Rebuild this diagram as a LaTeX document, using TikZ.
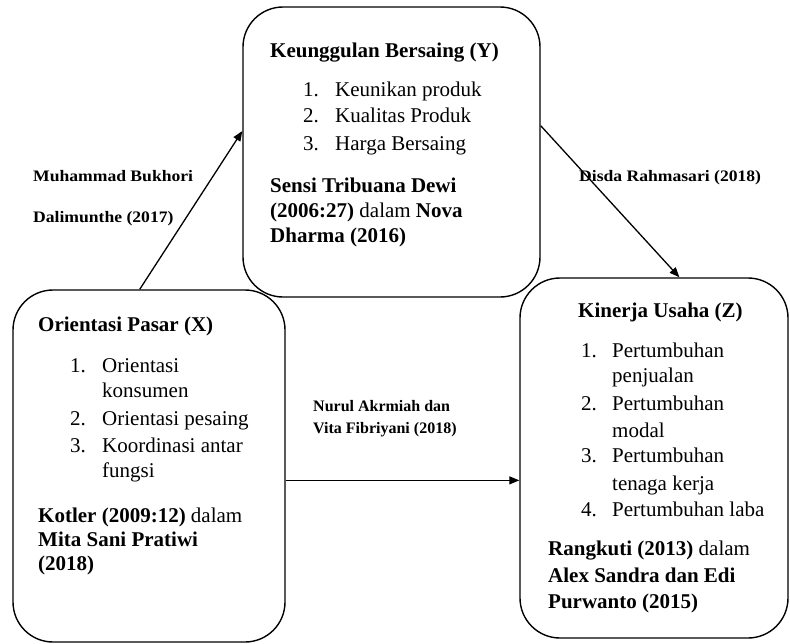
\documentclass[tikz,border=0pt]{standalone}
\usepackage{fontspec}
\setmainfont{Liberation Serif}
\usepackage{graphicx}
\usetikzlibrary{arrows.meta}

\tikzset{
  box/.style={draw, rounded corners=40pt, line width=1.4pt},
  txt/.style={anchor=base west, inner sep=0pt, font=\fontsize{21}{26}\selectfont},
  lbl/.style={anchor=base west, inner sep=0pt, font=\bfseries\fontsize{16}{20}\selectfont},
  arr/.style={-{Triangle[length=10pt,width=8pt]}, line width=1.3pt}
}
\newcommand{\wide}[1]{\scalebox{1.1}[1]{#1}}

\begin{document}
\begin{tikzpicture}[x=1pt,y=-1pt]
\useasboundingbox (0,0) rectangle (790,643);

\node[box, minimum width=297pt, minimum height=290pt] (Y) at (391.5,152) {};
\node[box, minimum width=272pt, minimum height=352pt] (X) at (149,466) {};
\node[box, minimum width=268pt, minimum height=360pt] (Z) at (654,458) {};

% Keunggulan Bersaing
\node[txt] (ytitle) at (270,57) {\textbf{Keunggulan Bersaing (Y)}};
\foreach \k/\yy/\t in {1/96/Keunikan produk, 2/122/Kualitas Produk, 3/150/Harga Bersaing}{
  \node[txt] (yn\k) at (303,\yy) {\k.};
  \node[txt] (yi\k) at (335,\yy) {\t};
}
\node[txt] (ysrc1) at (270,192) {\textbf{Sensi Tribuana Dewi}};
\node[txt] (ysrc2) at (270,217) {\textbf{(2006:27)} dalam \textbf{Nova}};
\node[txt] (ysrc3) at (270,242) {\textbf{Dharma (2016)}};

% Orientasi Pasar
\node[txt] (xtitle) at (38,331) {\textbf{Orientasi Pasar (X)}};
\foreach \k/\yy/\t in {1/372/Orientasi, 2/425/Orientasi pesaing, 3/452/Koordinasi antar}{
  \node[txt] (xn\k) at (70,\yy) {\k.};
  \node[txt] (xi\k) at (102,\yy) {\t};
}
\node[txt] (xi1b) at (102,397) {konsumen};
\node[txt] (xi3b) at (102,477) {fungsi};
\node[txt] (xsrc1) at (38,522) {\textbf{Kotler (2009:12)} dalam};
\node[txt] (xsrc2) at (38,546) {\textbf{Mita Sani Pratiwi}};
\node[txt] (xsrc3) at (38,570) {\textbf{(2018)}};

% Kinerja Usaha
\node[txt] (ztitle) at (578,317) {\textbf{Kinerja Usaha (Z)}};
\foreach \k/\yy/\t in {1/357/Pertumbuhan, 2/410/Pertumbuhan, 3/462/Pertumbuhan, 4/516/Pertumbuhan laba}{
  \node[txt] (zn\k) at (581,\yy) {\k.};
  \node[txt] (zi\k) at (612,\yy) {\t};
}
\node[txt] (zi1b) at (612,382) {penjualan};
\node[txt] (zi2b) at (612,437) {modal};
\node[txt] (zi3b) at (612,490) {tenaga kerja};
\node[txt] (zsrc1) at (548,555) {\textbf{Rangkuti (2013)} dalam};
\node[txt] (zsrc2) at (548,582) {\textbf{Alex Sandra dan Edi}};
\node[txt] (zsrc3) at (548,608) {\textbf{Purwanto (2015)}};

% arrows
\draw[arr] (X.93.6) -- (Y.172.3);
\draw[arr] (Y.10.7) -- (Z.82.4);
\draw[arr] (X.-6.7) -- (X.-6.7 -| Z.west);

\node[lbl] (l1) at (33,181) {\wide{Muhammad Bukhori}};
\node[lbl] (l2) at (33,222) {\wide{Dalimunthe (2017)}};
\node[lbl] (l3) at (579,181) {\wide{Disda Rahmasari (2018)}};
\node[lbl] (l4) at (313,411) {Nurul Akrmiah dan};
\node[lbl] (l5) at (313,433) {Vita Fibriyani (2018)};
\end{tikzpicture}
\end{document}
